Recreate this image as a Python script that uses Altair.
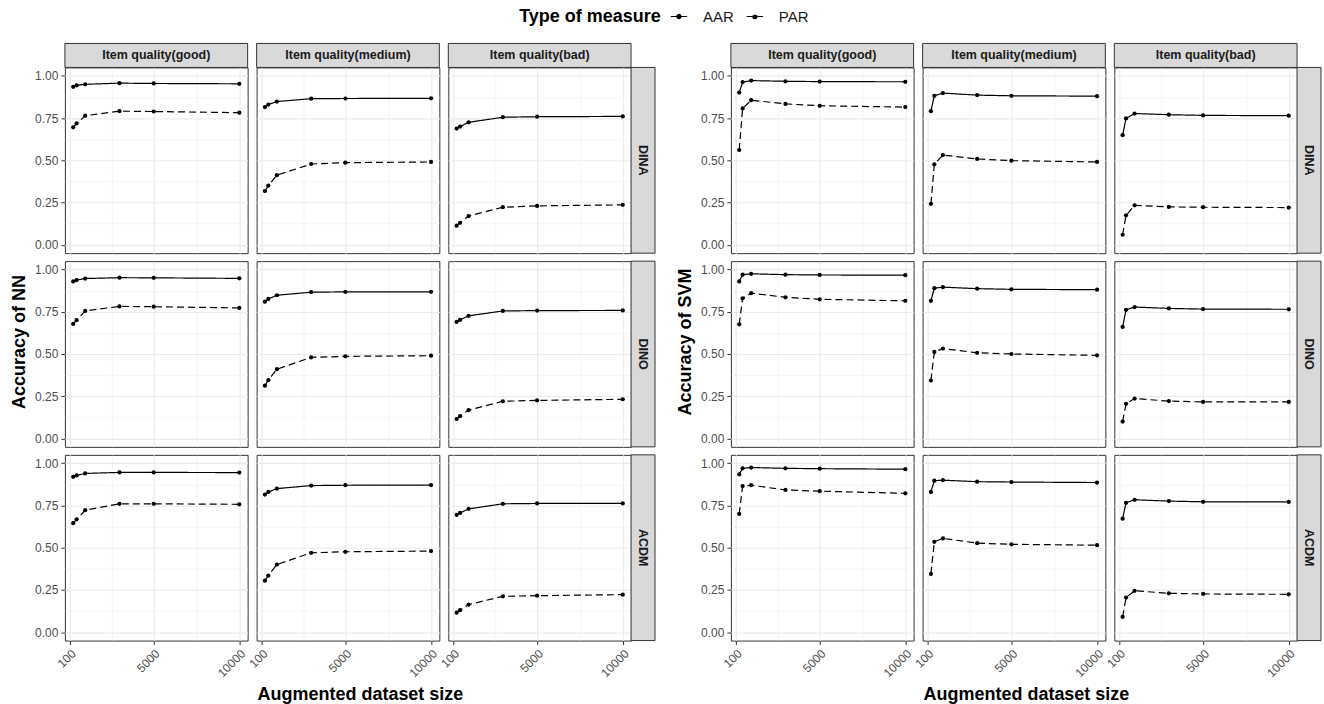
import altair as alt
import pandas as pd

sizes = [300, 500, 1000, 3000, 5000, 10000]
cdms = ["DINA", "DINO", "ACDM"]
qualities = ["good", "medium", "bad"]
qlabels = ["Item quality(good)", "Item quality(medium)", "Item quality(bad)"]
measures = ["AAR", "PAR"]
x_ticks = [100, 2550, 5000, 7500, 10000]
y_ticks = [0, 0.125, 0.25, 0.375, 0.5, 0.625, 0.75, 0.875, 1.0]

# ---- NN ----
NN_DINA_good_AAR = [0.935, 0.944, 0.950, 0.957, 0.955, 0.953]
NN_DINA_good_PAR = [0.695, 0.718, 0.764, 0.791, 0.789, 0.782]
NN_DINA_medium_AAR = [0.815, 0.830, 0.848, 0.865, 0.866, 0.867]
NN_DINA_medium_PAR = [0.318, 0.350, 0.412, 0.478, 0.486, 0.490]
NN_DINA_bad_AAR = [0.688, 0.700, 0.725, 0.755, 0.758, 0.760]
NN_DINA_bad_PAR = [0.113, 0.130, 0.170, 0.222, 0.230, 0.236]

NN_DINO_good_AAR = [0.930, 0.938, 0.947, 0.952, 0.951, 0.948]
NN_DINO_good_PAR = [0.678, 0.700, 0.755, 0.782, 0.780, 0.773]
NN_DINO_medium_AAR = [0.810, 0.826, 0.848, 0.866, 0.868, 0.868]
NN_DINO_medium_PAR = [0.312, 0.345, 0.410, 0.480, 0.486, 0.490]
NN_DINO_bad_AAR = [0.690, 0.702, 0.726, 0.755, 0.757, 0.758]
NN_DINO_bad_PAR = [0.115, 0.132, 0.168, 0.220, 0.225, 0.232]

NN_ACDM_good_AAR = [0.920, 0.928, 0.940, 0.946, 0.946, 0.945]
NN_ACDM_good_PAR = [0.645, 0.668, 0.722, 0.760, 0.760, 0.757]
NN_ACDM_medium_AAR = [0.815, 0.830, 0.850, 0.868, 0.870, 0.871]
NN_ACDM_medium_PAR = [0.305, 0.335, 0.400, 0.470, 0.476, 0.480]
NN_ACDM_bad_AAR = [0.695, 0.706, 0.730, 0.760, 0.762, 0.762]
NN_ACDM_bad_PAR = [0.115, 0.130, 0.163, 0.212, 0.216, 0.222]

# ---- SVM ----
SVM_DINA_good_AAR = [0.901, 0.963, 0.972, 0.968, 0.966, 0.965]
SVM_DINA_good_PAR = [0.561, 0.807, 0.856, 0.834, 0.823, 0.815]
SVM_DINA_medium_AAR = [0.791, 0.882, 0.898, 0.886, 0.882, 0.880]
SVM_DINA_medium_PAR = [0.242, 0.476, 0.531, 0.508, 0.498, 0.490]
SVM_DINA_bad_AAR = [0.649, 0.748, 0.777, 0.770, 0.766, 0.764]
SVM_DINA_bad_PAR = [0.059, 0.174, 0.233, 0.224, 0.222, 0.220]

SVM_DINO_good_AAR = [0.930, 0.970, 0.975, 0.970, 0.968, 0.967]
SVM_DINO_good_PAR = [0.676, 0.830, 0.860, 0.836, 0.824, 0.815]
SVM_DINO_medium_AAR = [0.815, 0.890, 0.896, 0.887, 0.883, 0.881]
SVM_DINO_medium_PAR = [0.343, 0.512, 0.532, 0.507, 0.500, 0.492]
SVM_DINO_bad_AAR = [0.660, 0.762, 0.778, 0.770, 0.766, 0.765]
SVM_DINO_bad_PAR = [0.100, 0.205, 0.236, 0.221, 0.216, 0.216]

SVM_ACDM_good_AAR = [0.935, 0.970, 0.975, 0.970, 0.968, 0.965]
SVM_ACDM_good_PAR = [0.700, 0.865, 0.870, 0.842, 0.835, 0.822]
SVM_ACDM_medium_AAR = [0.830, 0.897, 0.900, 0.891, 0.889, 0.886]
SVM_ACDM_medium_PAR = [0.345, 0.535, 0.555, 0.527, 0.520, 0.515]
SVM_ACDM_bad_AAR = [0.672, 0.766, 0.784, 0.776, 0.772, 0.771]
SVM_ACDM_bad_PAR = [0.090, 0.205, 0.245, 0.230, 0.226, 0.224]

series = {k: v for k, v in globals().items() if k.startswith(("NN_", "SVM_"))}

W = 183
H = 186
STRIP = 24


def frame(model):
    rows = []
    for cdm in cdms:
        for q, ql in zip(qualities, qlabels):
            for m in measures:
                vals = series[f"{model}_{cdm}_{q}_{m}"]
                for s, v in zip(sizes, vals):
                    rows.append({"cdm": cdm, "quality": q, "qlabel": ql,
                                 "measure": m, "size": s, "value": v})
    return pd.DataFrame(rows)


minor_x = "datum.value == 2550 || datum.value == 7500"
minor_y = "indexof([0.125, 0.375, 0.625, 0.875], datum.value) >= 0"

# line with a dot in the middle, for the legend glyph
legend_glyph = "M-1,0L1,0M0.25,0A0.25,0.25,0,1,1,-0.25,0A0.25,0.25,0,1,1,0.25,0Z"


def panel_grid(model):
    df = frame(model)
    x = alt.X(
        "size:Q",
        scale=alt.Scale(domain=[-185, 10485], nice=False, zero=False),
        axis=alt.Axis(
            values=x_ticks,
            labelExpr=f"({minor_x}) ? '' : datum.label",
            format="d",
            labelAngle=-45,
            labelAlign="right",
            labelBaseline="top",
            gridWidth={"condition": {"test": minor_x, "value": 0.5}, "value": 1.1},
            tickOpacity={"condition": {"test": minor_x, "value": 0}, "value": 1},
            title=None,
        ),
    )
    y = alt.Y(
        "value:Q",
        scale=alt.Scale(domain=[-0.05, 1.05], nice=False, zero=False),
        axis=alt.Axis(
            values=y_ticks,
            format=".2f",
            labelExpr=f"({minor_y}) ? '' : datum.label",
            gridWidth={"condition": {"test": minor_y, "value": 0.5}, "value": 1.1},
            tickOpacity={"condition": {"test": minor_y, "value": 0}, "value": 1},
            title=None,
        ),
    )
    base = alt.Chart()
    lines = base.mark_line(color="black", strokeWidth=1.2).encode(
        x=x, y=y,
        strokeDash=alt.StrokeDash(
            "measure:N",
            scale=alt.Scale(domain=measures, range=[[1, 0], [7, 4]]),
            legend=alt.Legend(
                title="Type of measure",
                orient="none",
                legendX=455,
                legendY=-60,
                direction="horizontal",
                titleOrient="left",
                titleFontSize=18,
                titleFontWeight="bold",
                titleColor="black",
                titlePadding=9,
                labelFontSize=15,
                labelColor="#1A1A1A",
                labelOffset=15,
                symbolType=legend_glyph,
                symbolStrokeColor="black",
                symbolFillColor="black",
                symbolStrokeWidth=1.2,
                symbolSize=270,
                columnPadding=10,
            ),
        ),
    )
    points = base.mark_circle(color="black", size=18, opacity=1).encode(x=x, y=y)

    top_filter = (alt.datum.cdm == "DINA") & (alt.datum.measure == "AAR") & (alt.datum.size == 10000)
    right_filter = (alt.datum.quality == "bad") & (alt.datum.measure == "AAR") & (alt.datum.size == 10000)

    top_rect = base.mark_rect(fill="#D9D9D9", stroke="#333333", strokeWidth=1).encode(
        x=alt.value(0), x2=alt.value(W), y=alt.value(-STRIP), y2=alt.value(0)
    ).transform_filter(top_filter)
    top_text = base.mark_text(fontWeight="bold", fontSize=12.5, color="#1A1A1A").encode(
        x=alt.value(W / 2), y=alt.value(-STRIP / 2), text="qlabel:N"
    ).transform_filter(top_filter)
    right_rect = base.mark_rect(fill="#D9D9D9", stroke="#333333", strokeWidth=1).encode(
        x=alt.value(W), x2=alt.value(W + STRIP), y=alt.value(0), y2=alt.value(H)
    ).transform_filter(right_filter)
    right_text = base.mark_text(fontWeight="bold", fontSize=12.5, color="#1A1A1A", angle=90).encode(
        x=alt.value(W + STRIP / 2), y=alt.value(H / 2), text="cdm:N"
    ).transform_filter(right_filter)

    layered = alt.layer(lines, points, top_rect, top_text, right_rect, right_text).properties(
        width=W, height=H
    )
    return layered.facet(
        row=alt.Row(
            "cdm:N", sort=cdms,
            header=alt.Header(
                labels=False, labelPadding=0, title=f"Accuracy of {model}", titleOrient="left",
                titleFontSize=18, titleFontWeight="bold", titleColor="black",
                titlePadding=-5,
            ),
        ),
        column=alt.Column(
            "qlabel:N", sort=qlabels,
            header=alt.Header(
                labels=False, labelPadding=0, title="Augmented dataset size", titleOrient="bottom",
                titleFontSize=18, titleFontWeight="bold", titleColor="black",
                titlePadding=-3,
            ),
        ),
        data=df,
        spacing={"row": 8, "column": 9},
        bounds="flush",
    )


chart = alt.hconcat(panel_grid("NN"), panel_grid("SVM"), spacing=20).properties(
    padding={"left": 10, "top": 7, "right": 2, "bottom": 2}
).configure(font="Liberation Sans", background="white").configure_view(
    stroke="#333333", strokeWidth=1
).configure_axis(
    domain=False,
    tickColor="#333333",
    tickSize=4,
    labelColor="#4D4D4D",
    labelFontSize=12,
    labelPadding=3,
    gridColor="#EBEBEB",
)

chart.save("out.html", embed_options={"renderer": "svg", "actions": False})
